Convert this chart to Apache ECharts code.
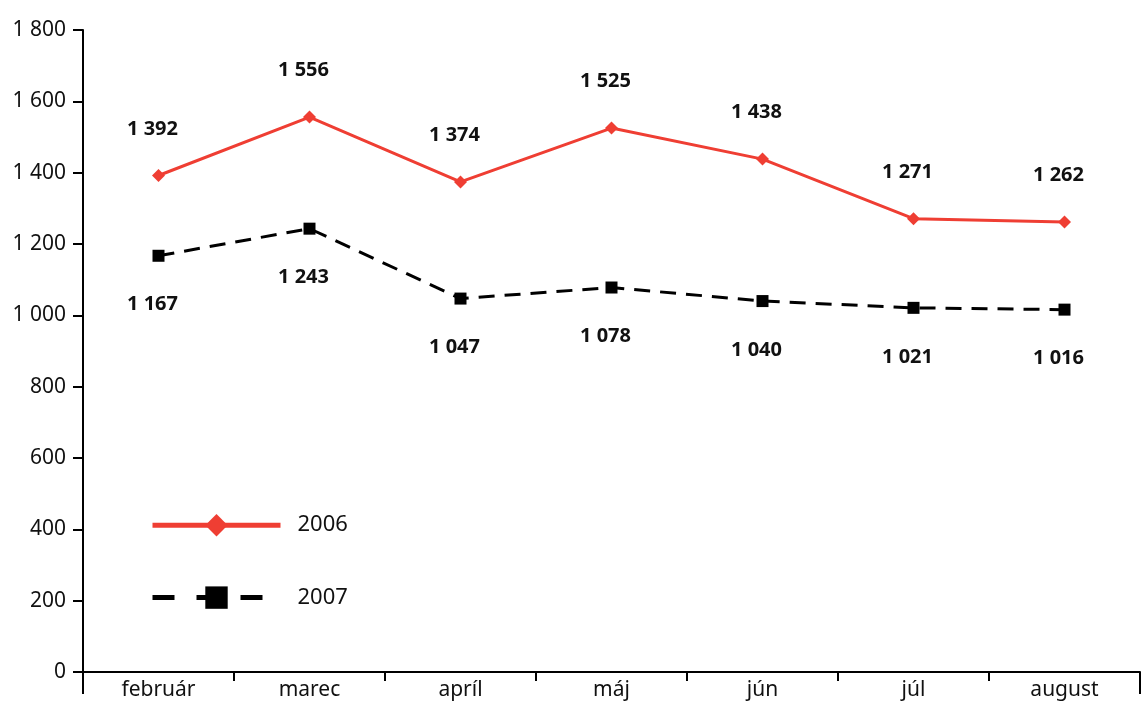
<!DOCTYPE html>
<html>
<head>
<meta charset="utf-8">
<script src="https://cdn.jsdelivr.net/npm/echarts@6/dist/echarts.min.js"></script>
<style>
  html, body { margin: 0; padding: 0; background: #fff; }
  #chart { width: 1143px; height: 704px; }
</style>
</head>
<body>
<div id="chart"></div>
<script>
const months = ['február', 'marec', 'apríl', 'máj', 'jún', 'júl', 'august']
const values2006 = [1392, 1556, 1374, 1525, 1438, 1271, 1262]
const values2007 = [1167, 1243, 1047, 1078, 1040, 1021, 1016]

// "1 800" style thousands separator
const fmt = v => String(v).replace(/\B(?=(\d{3})+(?!\d))/g, ' ')

const chart = echarts.init(document.getElementById('chart'))
const font = 'Noto Sans'

const option = {
  animation: false,
  grid: { left: 83, right: 3, top: 30, bottom: 32 },
  legend: {
    orient: 'vertical',
    left: 150,
    top: 514,
    padding: 0,
    itemWidth: 128,
    itemHeight: 28,
    itemGap: 50,
    textStyle: { fontFamily: font, fontSize: 22, color: '#111', padding: [0, 0, 0, 12] },
    data: [
      { name: '2006', itemStyle: { color: '#ef3e33' }, lineStyle: { width: 5 } },
      { name: '2007', itemStyle: { color: '#000' }, lineStyle: { width: 5, type: [22, 22] } }
    ]
  },
  xAxis: [
    {
      type: 'category',
      data: months,
      boundaryGap: true,
      axisLine: { lineStyle: { color: '#000', width: 2 } },
      axisTick: { show: true, length: 9, lineStyle: { color: '#000', width: 2 } },
      axisLabel: { fontFamily: font, fontSize: 21, color: '#111', margin: 8 }
    },
    {
      // longer end ticks at both ends of the axis
      type: 'category',
      data: [''],
      position: 'bottom',
      boundaryGap: true,
      axisLine: { show: false },
      axisTick: { show: true, length: 22, lineStyle: { color: '#000', width: 2 } },
      axisLabel: { show: false }
    }
  ],
  yAxis: {
    type: 'value',
    min: 0,
    max: 1800,
    interval: 200,
    splitLine: { show: false },
    axisLine: { show: true, lineStyle: { color: '#000', width: 2 } },
    axisTick: { show: true, length: 10, lineStyle: { color: '#000', width: 2 } },
    axisLabel: { fontFamily: font, fontSize: 21, color: '#111', margin: 17, formatter: fmt }
  },
  series: [
    {
      name: '2006',
      type: 'line',
      data: values2006,
      symbol: 'diamond',
      symbolSize: 13,
      itemStyle: { color: '#ef3e33' },
      lineStyle: { color: '#ef3e33', width: 3 },
      label: {
        show: true,
        position: 'top',
        distance: 30,
        offset: [-6, 0],
        fontFamily: font,
        fontWeight: 'bold',
        fontSize: 20,
        color: '#111',
        formatter: p => fmt(p.value)
      }
    },
    {
      name: '2007',
      type: 'line',
      data: values2007,
      symbol: 'rect',
      symbolSize: 12,
      itemStyle: { color: '#000' },
      lineStyle: { color: '#000', width: 3, type: [16, 10] },
      label: {
        show: true,
        position: 'bottom',
        distance: 33,
        offset: [-6, 0],
        fontFamily: font,
        fontWeight: 'bold',
        fontSize: 20,
        color: '#111',
        formatter: p => fmt(p.value)
      }
    }
  ]
}

chart.setOption(option)
</script>
</body>
</html>
